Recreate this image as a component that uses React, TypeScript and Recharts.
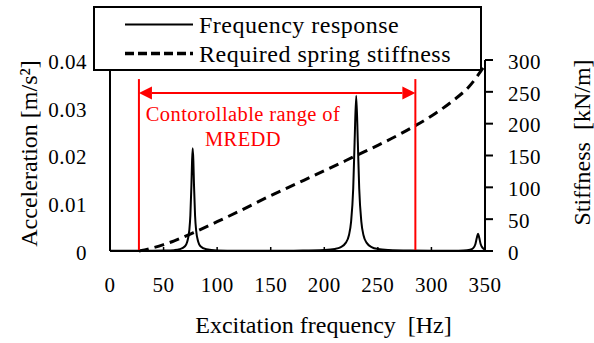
import React from 'react'
import { ComposedChart, Line, XAxis, YAxis, ReferenceLine } from 'recharts'

// frequency response (acceleration, m/s^2)
const respFreq = [
  0, 20, 40, 50, 60, 65, 70, 72, 74, 75, 76, 76.6, 77.2, 77.8, 78.4, 79.4, 80.4, 82.4, 84.4, 90, 100,
  120, 150, 180, 200, 210, 215, 220, 223, 225, 227, 228.3, 229.8, 231.3, 232.6, 234.6, 236.6, 239.6,
  244.6, 250, 260, 280, 300, 320, 330, 336, 339, 341, 342.5, 343.5, 344.5, 346, 348, 350,
]
const respAcc = [
  0.00005, 0.00005, 0.00005, 0.00008, 0.00018, 0.00036, 0.001, 0.0019, 0.0043, 0.0074, 0.0138, 0.0189,
  0.0215, 0.0189, 0.0138, 0.0074, 0.0043, 0.0019, 0.001, 0.00035, 0.00012, 0.00006, 0.00005, 0.00008,
  0.0002, 0.00043, 0.00077, 0.0017, 0.0033, 0.0061, 0.0131, 0.0228, 0.0325, 0.0228, 0.0131, 0.0061,
  0.0033, 0.0017, 0.00077, 0.00042, 0.0002, 0.00008, 0.00005, 0.00006, 0.0001, 0.00026, 0.0006, 0.0014,
  0.0029, 0.0036, 0.0029, 0.0014, 0.0006, 0.0003,
]

// required spring stiffness (kN/m)
const stiffFreq = [27, 40, 50, 60, 78, 100, 120, 150, 177, 200, 230, 250, 270, 284, 300, 320, 335, 350]
const stiffValue = [0, 5, 10, 16, 29, 46, 62, 87, 108, 126, 150, 166, 183, 196, 212, 236, 258, 292]

const freqTicks = [0, 50, 100, 150, 200, 250, 300, 350]
const accTicks = [0, 0.01, 0.02, 0.03, 0.04]
const stiffTicks = [0, 50, 100, 150, 200, 250, 300]

const legendNames = ['Frequency response', 'Required spring stiffness']

// controllable range of the MREDD
const rangeLow = 27
const rangeHigh = 285
const rangeTop = 0.036
const arrowLevel = 0.0331

const respData = respFreq.map((f, i) => ({ f, acc: respAcc[i] }))
const stiffData = stiffFreq.map((f, i) => ({ f, k: stiffValue[i] }))

const FONT = 'Liberation Serif'
const RED = '#ff0000'
const TICK_SIZE = 21

function BottomTick(props: any) {
  const { x, y, payload } = props
  const inner = payload.value > 0 && payload.value < 350
  return (
    <g>
      {inner && <line x1={x} y1={y - 26} x2={x} y2={y - 30} stroke="#000" strokeWidth={1.5} />}
      <text x={x} y={y} dy="0.71em" textAnchor="middle" fontFamily={FONT} fontSize={TICK_SIZE} letterSpacing={0.5} fill="#000">
        {payload.value}
      </text>
    </g>
  )
}

function SideTick(props: any) {
  const { x, y, payload, anchor } = props
  return (
    <text x={x} y={y} dy="0.42em" textAnchor={anchor} fontFamily={FONT} fontSize={TICK_SIZE} letterSpacing={0.5} fill="#000">
      {payload.value}
    </text>
  )
}

function AxisTitle(props: any) {
  const { text, x, y, rotate } = props
  return (
    <text
      x={x}
      y={y}
      textAnchor="middle"
      transform={rotate ? `rotate(-90, ${x}, ${y})` : undefined}
      fontFamily={FONT}
      fontSize={24}
      style={{ whiteSpace: 'pre' }}
      fill="#000"
    >
      {text}
    </text>
  )
}

function RangeArrow(props: any) {
  const { x1, y1, x2, y2 } = props
  const head = 13
  const half = 6.5
  return (
    <g>
      <line x1={x1 + head} y1={y1} x2={x2 - head} y2={y2} stroke={RED} strokeWidth={2} />
      <polygon points={`${x1},${y1} ${x1 + head},${y1 - half} ${x1 + head},${y1 + half}`} fill={RED} />
      <polygon points={`${x2},${y2} ${x2 - head},${y2 - half} ${x2 - head},${y2 + half}`} fill={RED} />
    </g>
  )
}

export default function App() {
  return (
    <div
      style={{
        position: 'absolute',
        left: 0,
        top: 0,
        width: 594,
        height: 343,
        background: '#fff',
        fontFamily: FONT,
      }}
    >
      <ComposedChart width={594} height={343} margin={{ top: 60, right: 0, bottom: 0, left: 0 }}>
        <XAxis
          type="number"
          dataKey="f"
          domain={[0, 350]}
          ticks={freqTicks}
          allowDataOverflow
          axisLine={{ stroke: '#000', strokeWidth: 2 }}
          tickLine={false}
          tickSize={0}
          tickMargin={26}
          height={92}
          tick={<BottomTick />}
          label={{
            content: ({ viewBox }: any) => (
              <AxisTitle
                text="Excitation frequency  [Hz]"
                x={viewBox.x + viewBox.width / 2 + 26}
                y={viewBox.y + 82}
              />
            ),
          }}
        />
        <YAxis
          yAxisId="acc"
          orientation="left"
          domain={[0, 0.04]}
          ticks={accTicks}
          width={110}
          axisLine={{ stroke: '#000', strokeWidth: 2 }}
          tickLine={false}
          tickSize={0}
          tickMargin={23}
          tick={<SideTick anchor="end" />}
          label={{
            content: ({ viewBox }: any) => (
              <AxisTitle
                text="Acceleration [m/s²]"
                x={viewBox.x + 37}
                y={viewBox.y + viewBox.height / 2 - 2}
                rotate
              />
            ),
          }}
        />
        <YAxis
          yAxisId="k"
          orientation="right"
          domain={[0, 300]}
          ticks={stiffTicks}
          width={109}
          axisLine={{ stroke: '#000', strokeWidth: 2 }}
          tickLine={{ stroke: '#000', strokeWidth: 2 }}
          tickSize={8}
          tickMargin={15}
          tick={<SideTick anchor="start" />}
          label={{
            content: ({ viewBox }: any) => (
              <AxisTitle
                text="Stiffness  [kN/m]"
                x={viewBox.x + 105}
                y={viewBox.y + viewBox.height / 2 - 13}
                rotate
              />
            ),
          }}
        />
        <Line
          yAxisId="acc"
          data={respData}
          dataKey="acc"
          type="monotone"
          stroke="#000"
          strokeWidth={2}
          dot={false}
          isAnimationActive={false}
        />
        <Line
          yAxisId="k"
          data={stiffData}
          dataKey="k"
          type="monotone"
          stroke="#000"
          strokeWidth={3}
          strokeDasharray="10 6"
          dot={false}
          isAnimationActive={false}
        />
        <ReferenceLine
          yAxisId="acc"
          segment={[{ x: rangeLow, y: 0 }, { x: rangeLow, y: rangeTop }]}
          stroke={RED}
          strokeWidth={2}
        />
        <ReferenceLine
          yAxisId="acc"
          segment={[{ x: rangeHigh, y: 0 }, { x: rangeHigh, y: rangeTop }]}
          stroke={RED}
          strokeWidth={2}
        />
        <ReferenceLine
          yAxisId="acc"
          segment={[{ x: rangeLow, y: arrowLevel }, { x: rangeHigh, y: arrowLevel }]}
          stroke={RED}
          shape={<RangeArrow />}
        />
      </ComposedChart>

      <div
        style={{
          position: 'absolute',
          left: 133,
          top: 102,
          width: 220,
          textAlign: 'center',
          fontFamily: FONT,
          fontSize: 20.5,
          letterSpacing: 0.4,
          lineHeight: '24.5px',
          color: RED,
        }}
      >
        Contorollable range of
        <br />
        MREDD
      </div>

      <svg width={594} height={80} style={{ position: 'absolute', left: 0, top: 0 }}>
        <rect x={94} y={7} width={387} height={63} fill="#fff" stroke="#000" strokeWidth={2} />
        {legendNames.map((name, i) => (
          <g key={name}>
            <line
              x1={125}
              x2={193}
              y1={24.5 + i * 29}
              y2={24.5 + i * 29}
              stroke="#000"
              strokeWidth={i === 0 ? 2 : 3.5}
              strokeDasharray={i === 0 ? undefined : '9 4'}
            />
            <text x={199} y={32.5 + i * 29} fontFamily={FONT} fontSize={24} letterSpacing={0.5} fill="#000">
              {name}
            </text>
          </g>
        ))}
      </svg>
    </div>
  )
}
